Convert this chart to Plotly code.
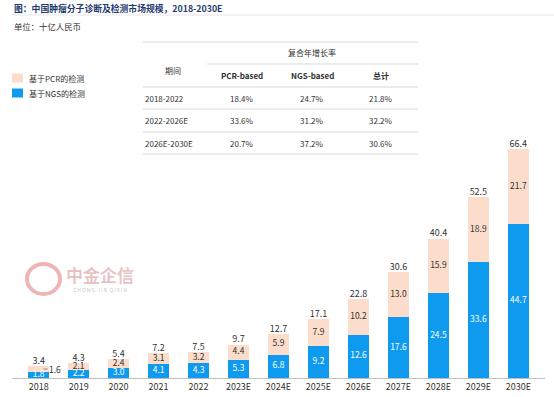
import plotly.graph_objects as go

years = ["2018", "2019", "2020", "2021", "2022", "2023E", "2024E", "2025E",
         "2026E", "2027E", "2028E", "2029E", "2030E"]
ngs = [1.8, 2.2, 3.0, 4.1, 4.3, 5.3, 6.8, 9.2, 12.6, 17.6, 24.5, 33.6, 44.7]
pcr = [1.6, 2.1, 2.4, 3.1, 3.2, 4.4, 5.9, 7.9, 10.2, 13.0, 15.9, 18.9, 21.7]
total = [3.4, 4.3, 5.4, 7.2, 7.5, 9.7, 12.7, 17.1, 22.8, 30.6, 40.4, 52.5, 66.4]

cagr_periods = ["2018-2022", "2022-2026E", "2026E-2030E"]
cagr_pcr = ["18.4%", "33.6%", "20.7%"]
cagr_ngs = ["24.7%", "31.2%", "37.2%"]
cagr_total = ["21.8%", "32.2%", "30.6%"]

title_text = "图：中国肿瘤分子诊断及检测市场规模，2018-2030E"
unit_text = "单位：十亿人民币"
legend_pcr = "基于PCR的检测"
legend_ngs = "基于NGS的检测"

BLUE = "#0E9BEF"
PEACH = "#FCDCCB"
DARK = "#333333"
NAVY = "#1F3A6E"
FONT = "Noto Sans CJK SC"

W_PX, H_PX = 554, 397
L, R, T, B = 12, 9, 140, 19
PW = W_PX - L - R
PH = H_PX - T - B

def px(x):
    return (x - L) / PW

def py(y):
    return (T + PH - y) / PH

fig = go.Figure()
fig.add_trace(go.Bar(x=years, y=ngs, marker=dict(color=BLUE, line=dict(width=0)),
                     name=legend_ngs, showlegend=False, hoverinfo="skip"))
fig.add_trace(go.Bar(x=years, y=pcr, marker=dict(color=PEACH, line=dict(width=0)),
                     name=legend_pcr, showlegend=False, hoverinfo="skip"))

# labels
fig.add_trace(go.Scatter(x=years, y=[v / 2 for v in ngs], mode="text",
                         text=[f"{v:.1f}" for v in ngs], cliponaxis=False,
                         textfont=dict(color="white", size=8.5, family=FONT),
                         showlegend=False, hoverinfo="skip"))
pcr_text = [f"{v:.1f}" for v in pcr]
pcr_text[0] = ""
fig.add_trace(go.Scatter(x=years, y=[n + p / 2 for n, p in zip(ngs, pcr)], mode="text",
                         text=pcr_text, cliponaxis=False,
                         textfont=dict(color=DARK, size=8.5, family=FONT),
                         showlegend=False, hoverinfo="skip"))
fig.add_trace(go.Scatter(x=years, y=total, mode="text", cliponaxis=False,
                         text=[f"{v:.1f}" for v in total], textposition="top center",
                         textfont=dict(color=DARK, size=9, family=FONT),
                         showlegend=False, hoverinfo="skip"))

ann = []
# 2018 PCR label outside with short leader line
ann.append(dict(x=0.12, y=ngs[0] + pcr[0] / 2, xref="x", yref="y",
                text=f"{pcr[0]:.1f}", showarrow=True, arrowhead=0, arrowwidth=0.8,
                arrowcolor="#777777", ax=4, ay=0, xanchor="left",
                font=dict(size=8.5, color=DARK, family=FONT)))

# title / subtitle
ann.append(dict(x=px(12), y=py(8), xref="paper", yref="paper", text="<b>" + title_text + "</b>",
                showarrow=False, xanchor="left", yanchor="middle",
                font=dict(size=8.8, color=NAVY, family=FONT)))
ann.append(dict(x=px(12), y=py(26), xref="paper", yref="paper", text=unit_text,
                showarrow=False, xanchor="left", yanchor="middle",
                font=dict(size=8.4, color=DARK, family=FONT)))

shapes = []
shapes.append(dict(type="line", xref="paper", yref="paper", x0=px(12), x1=px(554),
                   y0=py(15), y1=py(15), line=dict(color="#E6E6E6", width=1)))

# legend
for i, (lbl, col) in enumerate([(legend_pcr, PEACH), (legend_ngs, BLUE)]):
    yc = 78 + i * 15
    shapes.append(dict(type="rect", xref="paper", yref="paper", x0=px(12), x1=px(23),
                       y0=py(yc - 4.5), y1=py(yc + 4.5), fillcolor=col, line=dict(width=0)))
    ann.append(dict(x=px(27), y=py(yc), xref="paper", yref="paper", text=lbl,
                    showarrow=False, xanchor="left", yanchor="middle",
                    font=dict(size=8, color=DARK, family=FONT)))

# CAGR table
line_col = "#D9D9D9"
for y0, xs in [(42, 143), (64, 207), (87, 143), (109, 143), (132, 143), (154, 143)]:
    shapes.append(dict(type="line", xref="paper", yref="paper", x0=px(xs), x1=px(418),
                       y0=py(y0), y1=py(y0), line=dict(color=line_col, width=1)))
tfont = dict(size=8, color=DARK, family=FONT)
ann.append(dict(x=px(312), y=py(53), xref="paper", yref="paper", text="复合年增长率",
                showarrow=False, xanchor="center", yanchor="middle", font=tfont))
ann.append(dict(x=px(173), y=py(71), xref="paper", yref="paper", text="期间",
                showarrow=False, xanchor="center", yanchor="middle", font=tfont))
for txt, xc in [("PCR-based", 242), ("NGS-based", 312), ("总计", 381)]:
    ann.append(dict(x=px(xc), y=py(75), xref="paper", yref="paper", text="<b>" + txt + "</b>",
                    showarrow=False, xanchor="center", yanchor="middle", font=tfont))
for i, per in enumerate(cagr_periods):
    yc = 98 + i * 22.5
    ann.append(dict(x=px(143), y=py(yc), xref="paper", yref="paper", text=per,
                    showarrow=False, xanchor="left", yanchor="middle", font=tfont))
    for vals, xc in [(cagr_pcr, 242), (cagr_ngs, 312), (cagr_total, 381)]:
        ann.append(dict(x=px(xc), y=py(yc), xref="paper", yref="paper", text=vals[i],
                        showarrow=False, xanchor="center", yanchor="middle", font=tfont))

# watermark
shapes.append(dict(type="circle", xref="paper", yref="paper", x0=px(27), x1=px(60),
                   y0=py(294), y1=py(264), line=dict(color="rgba(220,90,90,0.45)", width=4)))
ann.append(dict(x=px(100), y=py(274), xref="paper", yref="paper", text="<b>中金企信</b>",
                showarrow=False, xanchor="center", yanchor="middle",
                font=dict(size=17, color="rgba(200,120,120,0.45)", family=FONT)))
ann.append(dict(x=px(100), y=py(289), xref="paper", yref="paper", text="Z H O N G  J I N  Q I X I N",
                showarrow=False, xanchor="center", yanchor="middle",
                font=dict(size=5, color="rgba(150,150,150,0.6)", family=FONT)))

fig.update_layout(
    width=W_PX, height=H_PX,
    margin=dict(l=L, r=R, t=T, b=B, autoexpand=False),
    barmode="stack", bargap=0.46,
    paper_bgcolor="white", plot_bgcolor="white",
    annotations=ann, shapes=shapes,
    xaxis=dict(type="category", showgrid=False, showline=True, linecolor="#BFBFBF",
               linewidth=1, ticks="", tickfont=dict(size=9, color=DARK, family=FONT),
               automargin=False, fixedrange=True),
    yaxis=dict(range=[0, 69], visible=False, showgrid=False, zeroline=False,
               automargin=False, fixedrange=True),
    showlegend=False,
)

fig.write_html("out.html", config={"displayModeBar": False},
               post_script="document.body.style.margin='0';document.body.style.overflow='hidden';")
